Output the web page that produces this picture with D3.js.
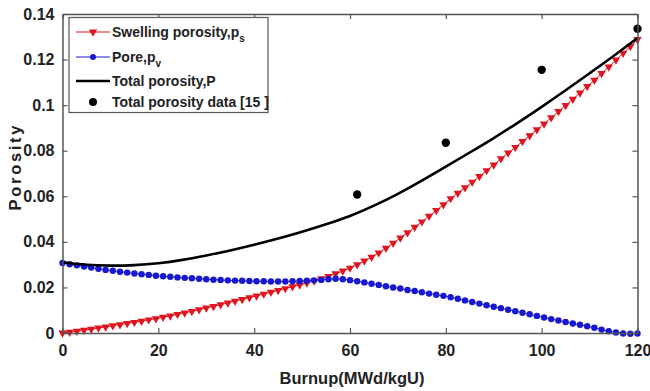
<!DOCTYPE html>
<html><head><meta charset="utf-8">
<script src="https://cdn.jsdelivr.net/npm/d3@7/dist/d3.min.js"></script>
<style>body{margin:0;background:#fff}svg{display:block}text{font-family:"Liberation Sans",Arial,sans-serif;font-weight:bold;fill:#222}</style>
</head><body><div id="chart"></div>
<script>
const burnup = d3.range(81).map(i => i * 1.5);
const swelling = [0,0.0004,0.0008,0.0012,0.0017,0.0022,0.0027,0.0032,0.0037,0.0042,0.0047,0.0052,0.0058,0.0063,0.0069,0.0075,0.0082,0.0088,0.0095,0.0102,0.0110,0.0117,0.0124,0.0132,0.0140,0.0147,0.0155,0.0163,0.0171,0.0179,0.0187,0.0195,0.0203,0.0211,0.0220,0.0229,0.0238,0.0248,0.0260,0.0272,0.0285,0.0300,0.0316,0.0333,0.0352,0.0372,0.0394,0.0417,0.0440,0.0464,0.0488,0.0513,0.0538,0.0563,0.0590,0.0614,0.0638,0.0662,0.0687,0.0713,0.0738,0.0765,0.0790,0.0815,0.0841,0.0866,0.0892,0.0918,0.0945,0.0972,0.0999,0.1026,0.1054,0.1082,0.1110,0.1139,0.1168,0.1198,0.1228,0.1258,0.1288];
const pore = [0.0307,0.0302,0.0297,0.0292,0.0287,0.0282,0.0277,0.0273,0.0269,0.0265,0.0261,0.0258,0.0255,0.0251,0.0249,0.0247,0.0244,0.0242,0.0240,0.0238,0.0236,0.0234,0.0233,0.0231,0.0230,0.0229,0.0228,0.0227,0.0227,0.0226,0.0226,0.0226,0.0227,0.0228,0.0229,0.0231,0.0233,0.0236,0.0238,0.0236,0.0232,0.0227,0.0222,0.0216,0.0211,0.0205,0.0200,0.0195,0.0189,0.0184,0.0179,0.0173,0.0168,0.0163,0.0157,0.0150,0.0143,0.0136,0.0129,0.0122,0.0115,0.0109,0.0102,0.0096,0.0089,0.0082,0.0075,0.0068,0.0061,0.0055,0.0048,0.0042,0.0036,0.0030,0.0023,0.0015,0.0008,0.0002,-0.0002,-0.0003,-0.0002];
const totalX = [0,5,10,15,20,25,30,35,40,45,50,55,60,65,70,75,80,85,90,95,100,105,110,115,120];
const totalP = [0.0310,0.0298,0.0295,0.0297,0.0305,0.0320,0.0340,0.0362,0.0387,0.0414,0.0444,0.0477,0.0512,0.0558,0.0610,0.0668,0.0730,0.0792,0.0855,0.0922,0.0992,0.1065,0.1140,0.1215,0.1295];
const dataX = [61.5, 80, 100, 120];
const dataP = [0.0608, 0.0835, 0.1155, 0.1335];
const xTicks = [0,20,40,60,80,100,120];
const yTicks = [0,0.02,0.04,0.06,0.08,0.1,0.12,0.14];
const yTickLabels = ["0","0.02","0.04","0.06","0.08","0.1","0.12","0.14"];
const legendLabels = [["Swelling porosity,p","s"],["Pore,p","v"],["Total porosity,P",""],["Total porosity data [15 ]",""]];

const W=650,H=391;
const svg=d3.select("#chart").append("svg").attr("width",W).attr("height",H);
const x=d3.scaleLinear().domain([0,120]).range([62.5,637.5]);
const y=d3.scaleLinear().domain([0,0.14]).range([333,14]);
const red="#e0141e", blue="#1818d0";

const g=svg.append("g");
g.append("path").datum(burnup.map((b,i)=>[b,swelling[i]]))
 .attr("fill","none").attr("stroke",red).attr("stroke-width",1)
 .attr("d",d3.line().x(d=>x(d[0])).y(d=>y(d[1])));
g.selectAll(".tri").data(burnup.map((b,i)=>[b,swelling[i]])).join("path")
 .attr("d",d3.symbol().type(d3.symbolTriangle).size(30))
 .attr("transform",d=>`translate(${x(d[0])},${y(d[1])}) rotate(180)`)
 .attr("fill",red);
g.append("path").datum(burnup.map((b,i)=>[b,pore[i]]))
 .attr("fill","none").attr("stroke",blue).attr("stroke-width",1)
 .attr("d",d3.line().x(d=>x(d[0])).y(d=>y(d[1])));
g.selectAll(".dot").data(burnup.map((b,i)=>[b,pore[i]])).join("circle")
 .attr("cx",d=>x(d[0])).attr("cy",d=>y(d[1])).attr("r",3.2).attr("fill",blue);
g.append("path").datum(totalX.map((b,i)=>[b,totalP[i]]))
 .attr("fill","none").attr("stroke","#000").attr("stroke-width",2.6)
 .attr("d",d3.line().curve(d3.curveBasis).x(d=>x(d[0])).y(d=>y(d[1])));
g.selectAll(".dd").data(dataX.map((b,i)=>[b,dataP[i]])).join("circle")
 .attr("cx",d=>x(d[0])).attr("cy",d=>y(d[1])).attr("r",4.2).attr("fill","#000");

const ax="#555";
const fmtY=d=>yTickLabels[yTicks.indexOf(d)];
const axB=svg.append("g").attr("transform","translate(0,333)")
 .call(d3.axisBottom(x).tickValues(xTicks).tickSizeInner(-5).tickSizeOuter(0).tickPadding(12));
const axT=svg.append("g").attr("transform","translate(0,14)")
 .call(d3.axisTop(x).tickValues(xTicks).tickSizeInner(-5).tickSizeOuter(0).tickFormat(""));
const axL=svg.append("g").attr("transform","translate(62.5,0)")
 .call(d3.axisLeft(y).tickValues(yTicks).tickSizeInner(-5).tickSizeOuter(0).tickPadding(8).tickFormat(fmtY));
const axR=svg.append("g").attr("transform","translate(637.5,0)")
 .call(d3.axisRight(y).tickValues(yTicks).tickSizeInner(-5).tickSizeOuter(0).tickFormat(""));
[axB,axT,axL,axR].forEach(a=>{
  a.select(".domain").attr("stroke",ax).attr("stroke-width",1.5);
  a.selectAll(".tick line").attr("stroke",ax).attr("stroke-width",1.2);
  a.selectAll("text").attr("font-size",16).attr("font-family","Liberation Sans, Arial, sans-serif").attr("font-weight","bold").attr("fill","#222");
});

svg.append("text").attr("x",352).attr("y",384).attr("text-anchor","middle").attr("font-size",16.5).text("Burnup(MWd/kgU)");
svg.append("text").attr("transform","translate(21,168) rotate(-90)").attr("text-anchor","middle").attr("font-size",16.5)
 .attr("textLength",85).attr("lengthAdjust","spacing").text("Porosity");

const lg=svg.append("g");
lg.append("rect").attr("x",69).attr("y",17.5).attr("width",199).attr("height",95).attr("fill","#fff").attr("stroke",ax).attr("stroke-width",1.2);
const rows=[32,57,81,102];
legendLabels.forEach((lab,i)=>{
  const yy=rows[i];
  if(i<3){
    lg.append("line").attr("x1",76).attr("x2",110).attr("y1",yy).attr("y2",yy)
      .attr("stroke",[red,blue,"#000"][i]).attr("stroke-width",i===2?2.4:1);
  }
  if(i===0) lg.append("path").attr("d",d3.symbol().type(d3.symbolTriangle).size(30)).attr("transform",`translate(93,${yy}) rotate(180)`).attr("fill",red);
  if(i===1) lg.append("circle").attr("cx",93).attr("cy",yy).attr("r",3).attr("fill",blue);
  if(i===3) lg.append("circle").attr("cx",93).attr("cy",yy).attr("r",4).attr("fill","#000");
  const t=lg.append("text").attr("x",112).attr("y",yy+5).attr("font-size",14);
  t.append("tspan").text(lab[0]);
  if(lab[1]) t.append("tspan").attr("dy",5).attr("font-size",10).text(lab[1]);
});
</script></body></html>
